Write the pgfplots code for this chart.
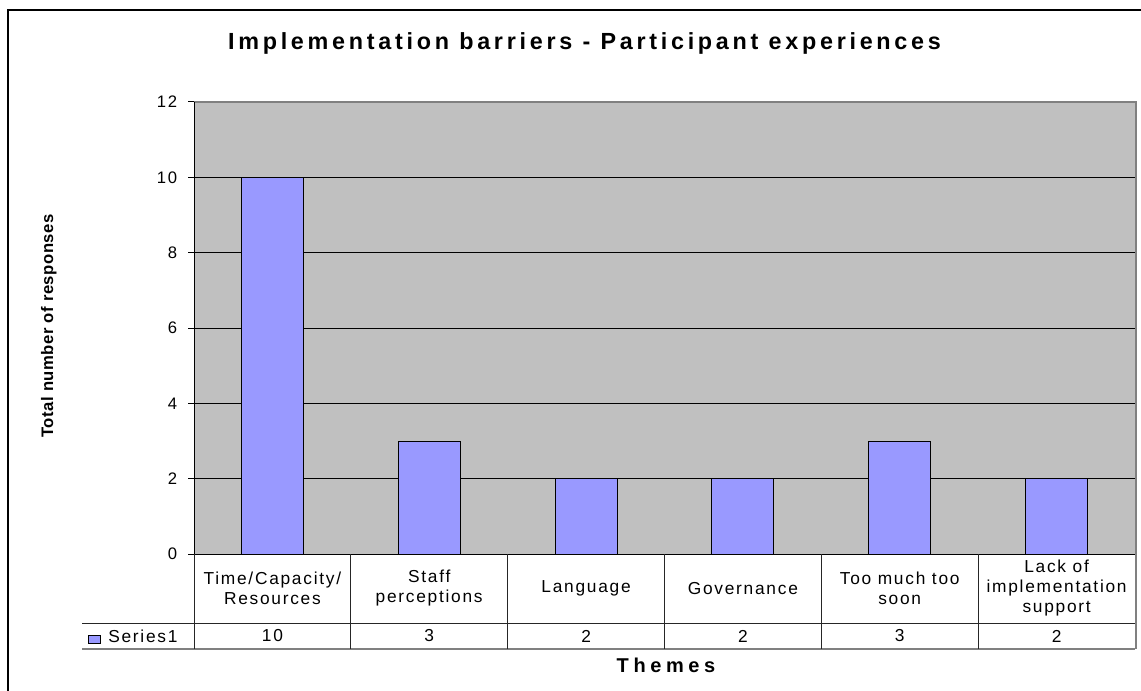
\documentclass[border=0pt]{standalone}
\usepackage{pgfplots}
\pgfplotsset{compat=1.18}
\usepackage{fontspec}
\setmainfont{Liberation Sans}[LetterSpace=10]
\newfontfamily\titlefont{Liberation Sans}[LetterSpace=16]
\newfontfamily\themefont{Liberation Sans}[LetterSpace=23]
\newfontfamily\ylabfont{Liberation Sans}[LetterSpace=3]
\definecolor{plotgray}{HTML}{C0C0C0}
\definecolor{barblue}{HTML}{9999FF}
\definecolor{bordergray}{HTML}{808080}
\begin{document}
\begin{tikzpicture}
\useasboundingbox (0,0) rectangle (855.75pt,517.5pt);
\clip (0,0) rectangle (855.75pt,517.5pt);
\fill[white] (0,0) rectangle (855.75pt,517.5pt);
\begin{axis}[
  at={(145.5pt,102pt)}, anchor=south west,
  scale only axis, width=705.75pt, height=339pt,
  xmin=-0.5, xmax=5.5, ymin=0, ymax=12,
  ytick={0,2,...,12}, xtick=\empty,
  axis background/.style={fill=plotgray},
  axis line style={draw=none},
  ymajorgrids, grid style={black, line width=0.75pt},
  tick align=outside, ytick pos=left, major tick length=4.5pt,
  tick style={black, line width=0.75pt},
  /pgf/number format/assume math mode=true,
  yticklabel style={font=\fontsize{12.5pt}{14pt}\selectfont, inner sep=0pt, xshift=-8pt},
  clip=false,
]
\addplot[ybar, bar width=46.5pt, fill=barblue, draw=black, line width=0.75pt] coordinates {(0,10) (1,3) (2,2) (3,2) (4,3) (5,2)};
\end{axis}
\begin{scope}[x=0.75pt, y=-0.75pt, yshift=517.5pt]
  % plot area border
  \draw[bordergray, line width=1.5pt] (194,102) -- (1135.5,102) -- (1135.5,649);
  \draw[black, line width=0.75pt] (194,102) -- (194,554) -- (1135,554);
  % table
  \draw[black!85, line width=0.75pt] (82,623) -- (1135,623);
  \draw[bordergray, line width=1pt] (82,649) -- (1135,649);
  \foreach \xx in {194,350.8,507.7,664.5,821.3,978.2}
    \draw[black!85, line width=0.75pt] (\xx,554) -- (\xx,649);
  % category labels
  \begin{scope}[every node/.style={align=center, font=\fontsize{13pt}{15pt}\selectfont, inner sep=0pt}]
  \node at (272.4,588.5) {Time/Capacity/\\Resources};
  \node at (429.2,588.5) {Staff\\perceptions};
  \node at (586.1,588.5) {Language};
  \node at (742.9,588.5) {Governance};
  \node at (899.7,588.5) {Too much too\\soon};
  \node at (1056.6,588.5) {Lack of\\implementation\\support};
  \node at (272.4,636) {10};
  \node at (429.2,636) {3};
  \node at (586.1,636) {2};
  \node at (742.9,636) {2};
  \node at (899.7,636) {3};
  \node at (1056.6,636) {2};
  \node[anchor=west] at (108,636) {Series1};
  \end{scope}
  \draw[black, line width=0.75pt, fill=barblue] (88,635) rectangle (100,643);
  % titles
  \node[anchor=base, inner sep=0pt, font=\titlefont\bfseries\fontsize{17.5pt}{20pt}\selectfont] at (584.5,50) {Implementation barriers - Participant experiences};
  \node[anchor=base, inner sep=0pt, font=\themefont\bfseries\fontsize{15pt}{17pt}\selectfont] at (666,672) {Themes};
  \node[anchor=base, rotate=90, inner sep=0pt, font=\ylabfont\bfseries\fontsize{12.5pt}{15pt}\selectfont] at (53,326) {Total number of responses};
  % frame
  \draw[black, line width=1.5pt] (8,10) rectangle (1161,700);
\end{scope}
\end{tikzpicture}
\end{document}
